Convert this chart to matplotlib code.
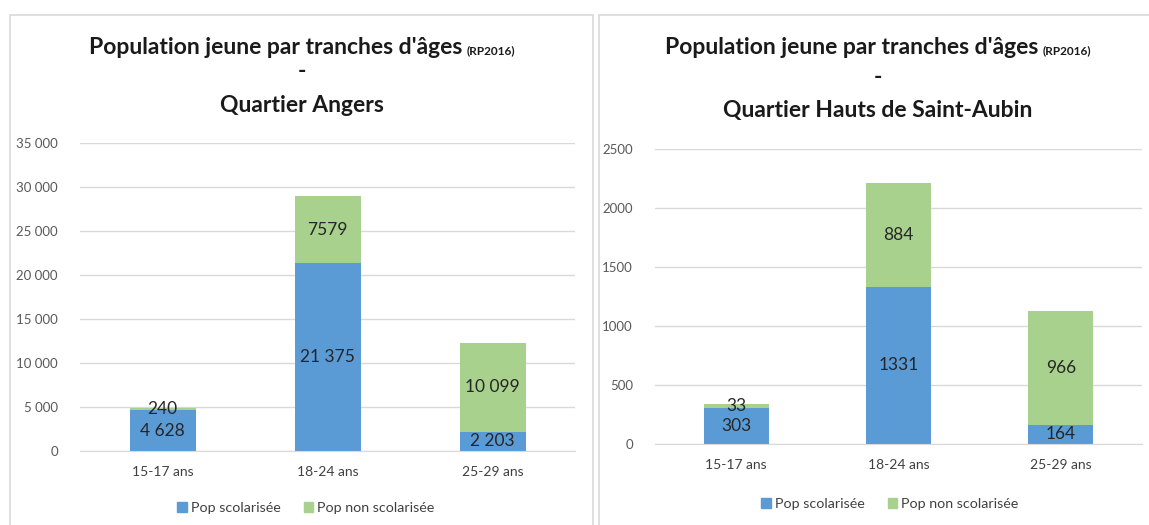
import matplotlib
matplotlib.use("Agg")
import matplotlib.pyplot as plt
from matplotlib.patches import Rectangle, Patch

categories = ["15-17 ans", "18-24 ans", "25-29 ans"]

angers_scol = [4628, 21375, 2203]
angers_non = [240, 7579, 10099]
angers_scol_lbl = ["4 628", "21 375", "2 203"]
angers_non_lbl = ["240", "7579", "10 099"]
angers_ticks = [0, 5000, 10000, 15000, 20000, 25000, 30000, 35000]
angers_tick_lbl = ["0", "5 000", "10 000", "15 000", "20 000", "25 000", "30 000", "35 000"]

hsa_scol = [303, 1331, 164]
hsa_non = [33, 884, 966]
hsa_scol_lbl = ["303", "1331", "164"]
hsa_non_lbl = ["33", "884", "966"]
hsa_ticks = [0, 500, 1000, 1500, 2000, 2500]
hsa_tick_lbl = ["0", "500", "1000", "1500", "2000", "2500"]

series_names = ["Pop scolarisée", "Pop non scolarisée"]
BLUE = "#5B9BD5"
GREEN = "#A9D18E"
FONT = "Lato"
TITLE_C = "#1a1a1a"

W, H = 1149, 525
fig = plt.figure(figsize=(W / 100, H / 100), dpi=100)
fig.patch.set_facecolor("white")
renderer = fig.canvas.get_renderer()


def px(x0, y0, x1, y1):
    return [x0 / W, 1 - y1 / H, (x1 - x0) / W, (y1 - y0) / H]


# panel frames
for (x0, x1) in [(10, 593), (599, 1160)]:
    fig.patches.append(Rectangle((x0 / W, -0.05), (x1 - x0) / W, 1.05 - 15 / H,
                                 transform=fig.transFigure, fill=False,
                                 edgecolor="#D9D9D9", linewidth=1.2))


def draw(rect, scol, non, scol_lbl, non_lbl, ticks, tick_lbl, title2, tcx, ty, legend_x, legend_y):
    ax = fig.add_axes(rect)
    x = list(range(len(categories)))
    ax.bar(x, scol, width=0.4, color=BLUE, zorder=3)
    ax.bar(x, non, width=0.4, bottom=scol, color=GREEN, zorder=3)
    for i in x:
        ax.text(i, scol[i] / 2, scol_lbl[i], ha="center", va="center",
                fontsize=12.5, color="#262626", family=FONT, zorder=4)
        ax.text(i, scol[i] + non[i] / 2, non_lbl[i], ha="center", va="center",
                fontsize=12.5, color="#262626", family=FONT, zorder=4)
    ax.set_xlim(-0.5, 2.5)
    ax.set_ylim(ticks[0], ticks[-1])
    ax.set_yticks(ticks)
    ax.set_yticklabels(tick_lbl, fontsize=9.5, color="#595959", family=FONT)
    ax.set_xticks(x)
    ax.set_xticklabels(categories, fontsize=10, color="#404040", family=FONT)
    ax.tick_params(axis="both", length=0)
    ax.tick_params(axis="y", pad=16)
    ax.tick_params(axis="x", pad=11)
    ax.grid(axis="y", color="#D9D9D9", linewidth=1, zorder=0)
    for s in ["top", "right", "left"]:
        ax.spines[s].set_visible(False)
    ax.spines["bottom"].set_color("#D9D9D9")
    ax.spines["bottom"].set_zorder(5)
    handles = [Patch(color=BLUE), Patch(color=GREEN)]
    fig.legend(handles, series_names, loc="center",
               bbox_to_anchor=(legend_x / W, 1 - legend_y / H), ncol=2, frameon=False,
               prop={"family": FONT, "size": 10.3}, handlelength=0.65, handleheight=0.65,
               handletextpad=0.3, columnspacing=1.6, labelcolor="#404040")
    # title first line: main part + smaller "(RP2016)", centred together, same baseline
    gap = 5
    t1 = fig.text(0, 1 - ty[0] / H, "Population jeune par tranches d'âges",
                  ha="left", va="baseline", fontsize=16.5, fontweight="bold", family=FONT,
                  color=TITLE_C)
    t2 = fig.text(0, 1 - ty[0] / H, "(RP2016)", ha="left", va="baseline",
                  fontsize=8.5, fontweight="bold", family=FONT, color=TITLE_C)
    w1 = t1.get_window_extent(renderer).width
    w2 = t2.get_window_extent(renderer).width
    start = tcx - (w1 + gap + w2) / 2
    t1.set_x(start / W)
    t2.set_x((start + w1 + gap) / W)
    fig.text(tcx / W, 1 - ty[1] / H, "-", ha="center", va="center",
             fontsize=16.5, fontweight="bold", family=FONT, color=TITLE_C)
    fig.text(tcx / W, 1 - ty[2] / H, title2, ha="center", va="center",
             fontsize=16.5, fontweight="bold", family=FONT, color=TITLE_C)
    return ax


draw(px(80, 143, 575, 451), angers_scol, angers_non, angers_scol_lbl, angers_non_lbl,
     angers_ticks, angers_tick_lbl, "Quartier Angers", 302, (54, 72, 105), 306, 508)
draw(px(655, 149, 1142, 444), hsa_scol, hsa_non, hsa_scol_lbl, hsa_non_lbl,
     hsa_ticks, hsa_tick_lbl, "Quartier Hauts de Saint-Aubin", 878, (54, 78, 110), 890, 504)

fig.savefig("out.png", dpi=100, facecolor="white")
